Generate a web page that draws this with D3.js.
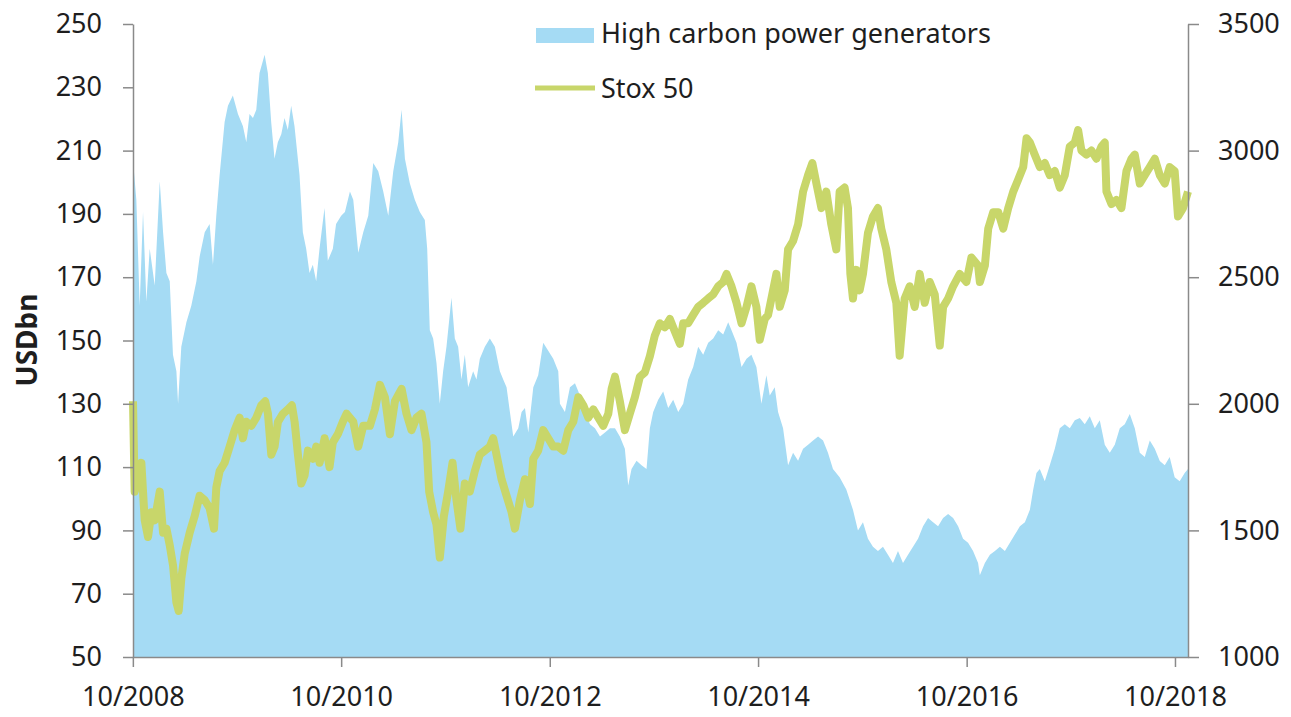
<!DOCTYPE html>
<meta charset="utf-8">
<style>
body { margin: 0; background: #fff; }
text { font-family: "Noto Sans", sans-serif; fill: #1e1e1e; }
.axis text { font-size: 27px; }
.axis line, .axis path { stroke: #8a8a8a; stroke-width: 1.5; }
</style>
<svg width="1291" height="717"></svg>
<script src="https://d3js.org/d3.v7.min.js"></script>
<script>

// High carbon power generators, market cap (USDbn, left axis); dates as decimal years
var hcDates = [
  2008.750, 2008.782, 2008.814, 2008.846, 2008.878, 2008.910, 2008.958, 2009.006, 2009.038, 2009.070,
  2009.102, 2009.133, 2009.166, 2009.182, 2009.213, 2009.262, 2009.309, 2009.358, 2009.389, 2009.438,
  2009.485, 2009.517, 2009.549, 2009.581, 2009.629, 2009.661, 2009.708, 2009.757, 2009.805, 2009.837,
  2009.868, 2009.901, 2009.933, 2009.964, 2010.013, 2010.044, 2010.076, 2010.108, 2010.140, 2010.173,
  2010.204, 2010.236, 2010.268, 2010.300, 2010.348, 2010.380, 2010.412, 2010.444, 2010.476, 2010.508,
  2010.540, 2010.588, 2010.620, 2010.668, 2010.699, 2010.748,
  2010.784, 2010.832, 2010.864, 2010.912, 2010.960, 2011.008, 2011.056, 2011.104, 2011.152, 2011.200,
  2011.248, 2011.296, 2011.328, 2011.360, 2011.407, 2011.455, 2011.503, 2011.551, 2011.574, 2011.599,
  2011.631, 2011.663, 2011.695, 2011.727, 2011.759, 2011.807, 2011.839, 2011.871, 2011.903, 2011.935,
  2011.967, 2012.015, 2012.047, 2012.079, 2012.127, 2012.175, 2012.223, 2012.271, 2012.303, 2012.335,
  2012.367, 2012.399, 2012.447, 2012.479, 2012.511, 2012.543, 2012.591, 2012.638, 2012.686, 2012.734,
  2012.782, 2012.830,
  2012.846, 2012.894, 2012.942, 2012.990, 2013.038, 2013.086, 2013.134, 2013.182, 2013.230, 2013.278,
  2013.326, 2013.374, 2013.421, 2013.469, 2013.501, 2013.533, 2013.581, 2013.629, 2013.677, 2013.709,
  2013.741, 2013.789, 2013.837, 2013.885, 2013.933, 2013.981, 2014.029, 2014.077, 2014.125, 2014.173,
  2014.221, 2014.269, 2014.317, 2014.365, 2014.413, 2014.461, 2014.493, 2014.541, 2014.589, 2014.637,
  2014.684, 2014.732, 2014.780, 2014.828,
  2014.860, 2014.908, 2014.940, 2014.988, 2015.036, 2015.084, 2015.132, 2015.180, 2015.228, 2015.276,
  2015.324, 2015.372, 2015.419, 2015.467, 2015.531, 2015.595, 2015.659, 2015.707, 2015.755, 2015.803,
  2015.851, 2015.899, 2015.947, 2015.995, 2016.043, 2016.091, 2016.139, 2016.187, 2016.235, 2016.283,
  2016.331, 2016.379, 2016.427, 2016.475, 2016.523, 2016.571, 2016.619, 2016.667, 2016.714, 2016.762,
  2016.810, 2016.858,
  2016.875, 2016.923, 2016.971, 2017.019, 2017.067, 2017.115, 2017.163, 2017.211, 2017.259, 2017.307,
  2017.355, 2017.387, 2017.418, 2017.450, 2017.498, 2017.546, 2017.594, 2017.642, 2017.690, 2017.738,
  2017.786, 2017.834, 2017.882, 2017.930, 2017.978, 2018.026, 2018.074, 2018.122, 2018.170, 2018.218,
  2018.266, 2018.314, 2018.362, 2018.410, 2018.458, 2018.506, 2018.554, 2018.602, 2018.650, 2018.697,
  2018.745, 2018.793, 2018.841, 2018.873
];
var hcValues = [
  207, 194.5, 161, 190.6, 162.3, 179, 167.4, 200.3, 184.2, 171.3,
  168.7, 145.5, 140.3, 130, 148, 155.8, 161, 168.7, 176.5, 184.2,
  186.8, 173.9, 189.4, 202.3, 219, 224.2, 227.4, 221.6, 217.7, 212.6,
  221.6, 220.3, 222.9, 234.5, 240.3, 234.5, 219, 207.4, 212.6, 215.2,
  220.3, 216.5, 224.2, 217.7, 202.3, 184.2, 179, 171.3, 173.9, 168.7,
  179, 191.9, 175.2, 179, 186.8, 189.4,
  190.6, 197.1, 194.5, 177.7, 184.2, 189.4, 206.1, 203.5, 197.1, 189.4,
  203.5, 212.6, 222.9, 207.4, 199.7, 194.5, 190.6, 188.1, 179, 153.2,
  150.6, 142.9, 130, 140.3, 148, 163.5, 150.6, 148, 137.7, 145.5,
  135.2, 140.3, 137.7, 144.2, 148, 150.6, 148, 140.3, 137.7, 135.2,
  127.4, 119.7, 122.3, 127.4, 128.7, 120.9, 135.2, 139, 149.3, 146.8,
  144.2, 140.3,
  130, 127.4, 135.2, 136.5, 132.6, 127.4, 123.5, 122.3, 119.7, 120.9,
  122.3, 122.3, 119.7, 115.8, 104.2, 109.4, 112, 110.6, 109.4, 122.3,
  127.4, 131.3, 133.9, 128.7, 131.3, 127.4, 130, 137.7, 141.6, 148,
  145.5, 149.3, 150.6, 153.2, 151.9, 155.8, 153.2, 149.3, 141.6, 144.2,
  145.5, 141.6, 130, 139,
  132.6, 135.2, 127.4, 122.3, 110.6, 114.5, 112, 115.8, 117.1, 118.4,
  119.7, 118.4, 114.5, 109.4, 106.8, 102.9, 96.5, 90, 92.6, 87.4,
  84.8, 83.5, 84.8, 82.3, 79.7, 83.5, 79.7, 82.3, 84.8, 87.4,
  91.3, 93.9, 92.6, 91.3, 93.9, 95.2, 93.9, 91.3, 87.4, 86.1,
  83.5, 79.7,
  75.8, 79.7, 82.3, 83.5, 84.8, 83.5, 86.1, 88.7, 91.3, 92.6,
  96.5, 102.9, 108.1, 109.4, 105.5, 110.6, 115.8, 122.3, 123.5, 122.3,
  124.8, 125.5, 123.5, 126.1, 122.3, 124.8, 117.1, 114.5, 117.1, 122.3,
  123.5, 126.8, 122.3, 114.5, 113.2, 118.4, 115.8, 111.9, 110.6, 113.2,
  106.8, 105.5, 108.1, 109.4
];

// Stox 50 index (right axis)
var stoxDates = [
  2008.750, 2008.766, 2008.798, 2008.830, 2008.862, 2008.894, 2008.926, 2008.958, 2009.006, 2009.038,
  2009.070, 2009.102, 2009.134, 2009.166, 2009.188, 2009.214, 2009.246, 2009.294, 2009.341, 2009.389,
  2009.437, 2009.485, 2009.527, 2009.549, 2009.581, 2009.629, 2009.677, 2009.725, 2009.773, 2009.805,
  2009.837, 2009.885, 2009.933, 2009.981, 2010.019, 2010.045, 2010.077, 2010.109, 2010.141, 2010.189,
  2010.237, 2010.275, 2010.301, 2010.333, 2010.365, 2010.397, 2010.429, 2010.477, 2010.509, 2010.541,
  2010.589, 2010.636, 2010.668, 2010.716, 2010.764,
  2010.800, 2010.864, 2010.912, 2010.960, 2011.024, 2011.072, 2011.120, 2011.168, 2011.216, 2011.264,
  2011.328, 2011.375, 2011.423, 2011.471, 2011.519, 2011.567, 2011.593, 2011.631, 2011.663, 2011.695,
  2011.734, 2011.775, 2011.817, 2011.855, 2011.893, 2011.935, 2011.983, 2012.031, 2012.079, 2012.127,
  2012.175, 2012.207, 2012.239, 2012.287, 2012.335, 2012.383, 2012.415, 2012.463, 2012.511, 2012.559,
  2012.591, 2012.638, 2012.686, 2012.734, 2012.782, 2012.830,
  2012.878, 2012.926, 2012.974, 2013.022, 2013.070, 2013.118, 2013.166, 2013.214, 2013.262, 2013.310,
  2013.342, 2013.374, 2013.421, 2013.469, 2013.517, 2013.565, 2013.613, 2013.661, 2013.709, 2013.757,
  2013.805, 2013.853, 2013.901, 2013.949, 2013.997, 2014.029, 2014.077, 2014.125, 2014.173, 2014.221,
  2014.269, 2014.317, 2014.365, 2014.413, 2014.445, 2014.493, 2014.541, 2014.589, 2014.637, 2014.684,
  2014.732, 2014.764, 2014.812,
  2014.844, 2014.892, 2014.924, 2014.956, 2015.004, 2015.036, 2015.084, 2015.132, 2015.180, 2015.228,
  2015.269, 2015.308, 2015.356, 2015.403, 2015.451, 2015.499, 2015.531, 2015.579, 2015.611, 2015.634,
  2015.659, 2015.691, 2015.723, 2015.755, 2015.803, 2015.851, 2015.899, 2015.931, 2015.979, 2016.027,
  2016.075, 2016.107, 2016.155, 2016.203, 2016.251, 2016.299, 2016.347, 2016.395, 2016.443, 2016.491,
  2016.523, 2016.571, 2016.619, 2016.683, 2016.746, 2016.794, 2016.858,
  2016.875, 2016.923, 2016.955, 2017.003, 2017.051, 2017.099, 2017.147, 2017.195, 2017.243, 2017.291,
  2017.323, 2017.355, 2017.402, 2017.450, 2017.498, 2017.546, 2017.594, 2017.642, 2017.690, 2017.738,
  2017.786, 2017.818, 2017.850, 2017.898, 2017.946, 2017.994, 2018.042, 2018.074, 2018.090, 2018.138,
  2018.186, 2018.234, 2018.282, 2018.330, 2018.362, 2018.410, 2018.458, 2018.506, 2018.554, 2018.602,
  2018.650, 2018.697, 2018.745, 2018.777, 2018.825, 2018.873
];
var stoxValues = [
  2010, 1653, 1702, 1767, 1540, 1474, 1572, 1540, 1653, 1491,
  1507, 1442, 1361, 1215, 1182, 1312, 1409, 1491, 1556, 1637,
  1620, 1588, 1507, 1669, 1734, 1767, 1831, 1896, 1945, 1864,
  1929, 1913, 1945, 1994, 2010, 1961, 1799, 1831, 1929, 1961,
  1978, 1994, 1929, 1799, 1685, 1718, 1815, 1783, 1831, 1767,
  1864, 1750, 1848, 1880, 1929,
  1961, 1929, 1831, 1913, 1913, 1978, 2075, 2026, 1880, 2010,
  2059, 1961, 1896, 1945, 1961, 1848, 1653, 1572, 1523, 1393,
  1556, 1653, 1767, 1620, 1507, 1685, 1653, 1734, 1799, 1815,
  1831, 1864, 1799, 1702, 1637, 1572, 1507, 1620, 1702, 1604,
  1783, 1815, 1896, 1864, 1831, 1831,
  1815, 1896, 1929, 2026, 1994, 1945, 1978, 1945, 1913, 1961,
  2059, 2107, 2010, 1896, 1961, 2026, 2107, 2124, 2188, 2270,
  2318, 2302, 2335, 2286, 2237, 2318, 2318, 2351, 2383, 2399,
  2416, 2432, 2464, 2481, 2513, 2464, 2399, 2318, 2383, 2464,
  2383, 2253, 2335,
  2351, 2448, 2513, 2383, 2448, 2610, 2643, 2708, 2838, 2903,
  2951, 2870, 2773, 2838, 2708, 2610, 2838, 2854, 2773, 2513,
  2416, 2529, 2448, 2513, 2675, 2740, 2773, 2692, 2610, 2481,
  2399, 2190, 2416, 2464, 2383, 2513, 2399, 2481, 2432, 2230,
  2383, 2416, 2464, 2513, 2481, 2578, 2546,
  2481, 2546, 2692, 2757, 2757, 2692, 2773, 2838, 2886, 2935,
  3049, 3032, 2984, 2935, 2951, 2903, 2919, 2854, 2903, 3016,
  3032, 3081, 3000, 2984, 3000, 2968, 3016, 3032, 2838, 2789,
  2805, 2773, 2919, 2968, 2984, 2870, 2903, 2935, 2968, 2903,
  2870, 2935, 2919, 2740, 2773, 2838
];

var leftTicks = [50, 70, 90, 110, 130, 150, 170, 190, 210, 230, 250];
var rightTicks = [1000, 1500, 2000, 2500, 3000, 3500];
var xTickYears = [2008, 2010, 2012, 2014, 2016, 2018];   // October of each

var svg = d3.select("svg");
var plotLeft = 133, plotRight = 1188, plotTop = 24, plotBottom = 657;

function toDate(y) {
  var yr = Math.floor(y),
      a = new Date(yr, 0, 1), b = new Date(yr + 1, 0, 1);
  return new Date(+a + (y - yr) * (b - a));
}

var hc = hcDates.map(function(d, i) { return { date: toDate(d), value: hcValues[i] }; });
var stox = stoxDates.map(function(d, i) { return { date: toDate(d), value: stoxValues[i] }; });

var x = d3.scaleTime()
    .domain([toDate(2008.75), toDate(2018.873)])
    .range([plotLeft, plotRight]);
var yL = d3.scaleLinear().domain([50, 250]).range([plotBottom, plotTop]);
var yR = d3.scaleLinear().domain([1000, 3500]).range([plotBottom, plotTop]);

// area series
svg.append("path")
    .datum(hc)
    .attr("fill", "#a5dbf4")
    .attr("d", d3.area()
      .x(function(d) { return x(d.date); })
      .y0(yL(50))
      .y1(function(d) { return yL(d.value); }));

// index line
svg.append("path")
    .datum(stox)
    .attr("fill", "none")
    .attr("stroke", "#c8d66a")
    .attr("stroke-width", 8)
    .attr("stroke-linejoin", "round")
    .attr("d", d3.line()
      .x(function(d) { return x(d.date); })
      .y(function(d) { return yR(d.value); }));

// axes
svg.append("g")
    .attr("class", "axis")
    .attr("transform", "translate(" + plotLeft + ",0)")
    .call(d3.axisLeft(yL).tickValues(leftTicks).tickSize(10).tickSizeOuter(0).tickPadding(21));

svg.append("g")
    .attr("class", "axis")
    .attr("transform", "translate(" + plotRight + ",0)")
    .call(d3.axisRight(yR).tickValues(rightTicks).tickFormat(d3.format("d"))
      .tickSize(11).tickSizeOuter(0).tickPadding(19));

svg.append("g")
    .attr("class", "axis")
    .attr("transform", "translate(0," + plotBottom + ")")
    .call(d3.axisBottom(x)
      .tickValues(xTickYears.map(function(y) { return new Date(y, 9, 1); }))
      .tickFormat(d3.timeFormat("%m/%Y"))
      .tickSize(10).tickSizeOuter(0).tickPadding(20));

svg.selectAll(".axis text").attr("fill", "#1e1e1e");

// y axis title
svg.append("text")
    .attr("transform", "translate(37,340) rotate(-90)")
    .attr("text-anchor", "middle")
    .style("font-size", "28px")
    .style("font-weight", "bold")
    .text("USDbn");

// legend
var legend = svg.append("g").style("font-size", "27px");
legend.append("rect")
    .attr("x", 536).attr("y", 28).attr("width", 58).attr("height", 15)
    .attr("fill", "#a5dbf4");
legend.append("text").attr("x", 601).attr("y", 43).text("High carbon power generators");
legend.append("line")
    .attr("x1", 535).attr("x2", 595).attr("y1", 88).attr("y2", 88)
    .attr("stroke", "#c8d66a").attr("stroke-width", 5);
legend.append("text").attr("x", 601).attr("y", 98).text("Stox 50");

</script>
